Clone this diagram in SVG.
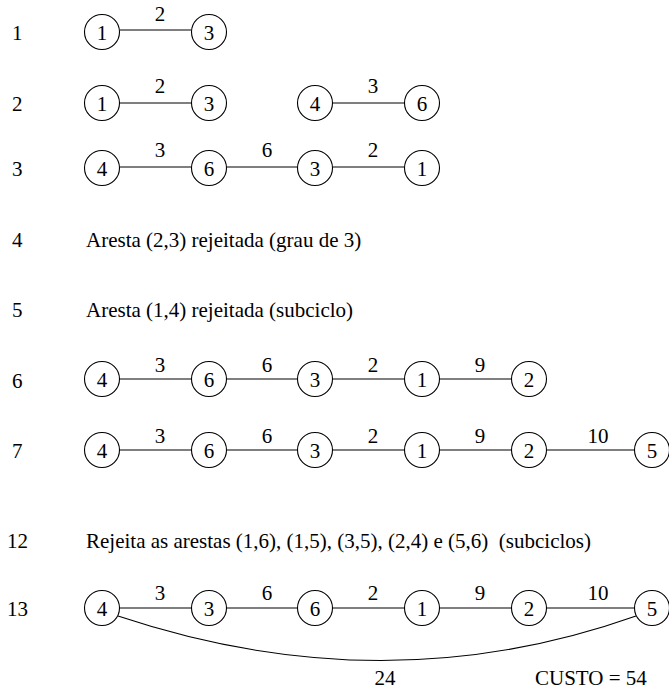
<svg xmlns="http://www.w3.org/2000/svg" width="669" height="691" viewBox="0 0 669 691" font-family="'Liberation Serif', 'Times New Roman', serif">
<style>
text{font-family:"Liberation Serif","Times New Roman",serif;font-size:21px;fill:#000}
.n{text-anchor:middle}
.e{text-anchor:middle}
circle{fill:#fff;stroke:#000;stroke-width:1.1}
.c line,.c path{stroke:#000;stroke-width:1.1;fill:none}
</style>
<defs>
<circle id="nd" r="17.5"/>
</defs>
<g id="rowlabels">
<text x="12" y="40">1</text>
<text x="12" y="111">2</text>
<text x="12" y="176">3</text>
<text x="12" y="247">4</text>
<text x="12" y="317">5</text>
<text x="12" y="388">6</text>
<text x="12" y="458">7</text>
<text x="7" y="548">12</text>
<text x="7" y="616">13</text>
</g>
<g id="connectors" class="c">
<line x1="119.5" y1="30" x2="191.5" y2="30"/>
<line x1="119.5" y1="103" x2="191.5" y2="103"/>
<line x1="332.5" y1="103" x2="404.5" y2="103"/>
<line x1="119.5" y1="167" x2="191.5" y2="167"/>
<line x1="226.5" y1="167" x2="297.5" y2="167"/>
<line x1="332.5" y1="167" x2="404.5" y2="167"/>
<line x1="119.5" y1="379" x2="191.5" y2="379"/>
<line x1="226.5" y1="379" x2="297.5" y2="379"/>
<line x1="332.5" y1="379" x2="404.5" y2="379"/>
<line x1="439.5" y1="379" x2="511.5" y2="379"/>
<line x1="119.5" y1="450" x2="191.5" y2="450"/>
<line x1="226.5" y1="450" x2="297.5" y2="450"/>
<line x1="332.5" y1="450" x2="404.5" y2="450"/>
<line x1="439.5" y1="450" x2="511.5" y2="450"/>
<line x1="546.5" y1="450" x2="634.5" y2="450"/>
<line x1="119.5" y1="608" x2="191.5" y2="608"/>
<line x1="226.5" y1="608" x2="297.5" y2="608"/>
<line x1="332.5" y1="608" x2="404.5" y2="608"/>
<line x1="439.5" y1="608" x2="511.5" y2="608"/>
<line x1="546.5" y1="608" x2="634.5" y2="608"/>
<path d="M118,616 Q385,705 636,616"/>
</g>
<g id="edgelabels">
<text class="e" x="160" y="21">2</text>
<text class="e" x="160" y="93">2</text>
<text class="e" x="373" y="93">3</text>
<text class="e" x="160" y="157">3</text>
<text class="e" x="267" y="157">6</text>
<text class="e" x="373" y="157">2</text>
<text class="e" x="160" y="372">3</text>
<text class="e" x="267" y="372">6</text>
<text class="e" x="373" y="372">2</text>
<text class="e" x="480" y="372">9</text>
<text class="e" x="160" y="443">3</text>
<text class="e" x="267" y="443">6</text>
<text class="e" x="373" y="443">2</text>
<text class="e" x="480" y="443">9</text>
<text class="e" x="598" y="443">10</text>
<text class="e" x="160" y="600">3</text>
<text class="e" x="267" y="600">6</text>
<text class="e" x="373" y="600">2</text>
<text class="e" x="480" y="600">9</text>
<text class="e" x="598" y="600">10</text>
<text class="e" x="385" y="685">24</text>
</g>
<g id="row1">
<g id="r1n1"><use href="#nd" x="102" y="32"/><text class="n" x="102" y="40">1</text></g>
<g id="r1n3"><use href="#nd" x="209" y="32"/><text class="n" x="209" y="40">3</text></g>
</g>
<g id="row2">
<g id="r2n1"><use href="#nd" x="102" y="103"/><text class="n" x="102" y="111">1</text></g>
<g id="r2n3"><use href="#nd" x="209" y="103"/><text class="n" x="209" y="111">3</text></g>
<g id="r2n4"><use href="#nd" x="315" y="103"/><text class="n" x="315" y="111">4</text></g>
<g id="r2n6"><use href="#nd" x="422" y="103"/><text class="n" x="422" y="111">6</text></g>
</g>
<g id="row3">
<g id="r3n4"><use href="#nd" x="102" y="168"/><text class="n" x="102" y="176">4</text></g>
<g id="r3n6"><use href="#nd" x="209" y="168"/><text class="n" x="209" y="176">6</text></g>
<g id="r3n3"><use href="#nd" x="315" y="168"/><text class="n" x="315" y="176">3</text></g>
<g id="r3n1"><use href="#nd" x="422" y="168"/><text class="n" x="422" y="176">1</text></g>
</g>
<g id="row4"><text x="86" y="247">Aresta (2,3) rejeitada (grau de 3)</text></g>
<g id="row5"><text x="86" y="317">Aresta (1,4) rejeitada (subciclo)</text></g>
<g id="row6">
<g id="r6n4"><use href="#nd" x="102" y="379"/><text class="n" x="102" y="387">4</text></g>
<g id="r6n6"><use href="#nd" x="209" y="379"/><text class="n" x="209" y="387">6</text></g>
<g id="r6n3"><use href="#nd" x="315" y="379"/><text class="n" x="315" y="387">3</text></g>
<g id="r6n1"><use href="#nd" x="422" y="379"/><text class="n" x="422" y="387">1</text></g>
<g id="r6n2"><use href="#nd" x="529" y="379"/><text class="n" x="529" y="387">2</text></g>
</g>
<g id="row7">
<g id="r7n4"><use href="#nd" x="102" y="450"/><text class="n" x="102" y="458">4</text></g>
<g id="r7n6"><use href="#nd" x="209" y="450"/><text class="n" x="209" y="458">6</text></g>
<g id="r7n3"><use href="#nd" x="315" y="450"/><text class="n" x="315" y="458">3</text></g>
<g id="r7n1"><use href="#nd" x="422" y="450"/><text class="n" x="422" y="458">1</text></g>
<g id="r7n2"><use href="#nd" x="529" y="450"/><text class="n" x="529" y="458">2</text></g>
<g id="r7n5"><use href="#nd" x="652" y="450"/><text class="n" x="652" y="458">5</text></g>
</g>
<g id="row12"><text x="86" y="548" xml:space="preserve">Rejeita as arestas (1,6), (1,5), (3,5), (2,4) e (5,6)  (subciclos)</text></g>
<g id="row13">
<g id="r13n4"><use href="#nd" x="102" y="608"/><text class="n" x="102" y="616">4</text></g>
<g id="r13n3"><use href="#nd" x="209" y="608"/><text class="n" x="209" y="616">3</text></g>
<g id="r13n6"><use href="#nd" x="315" y="608"/><text class="n" x="315" y="616">6</text></g>
<g id="r13n1"><use href="#nd" x="422" y="608"/><text class="n" x="422" y="616">1</text></g>
<g id="r13n2"><use href="#nd" x="529" y="608"/><text class="n" x="529" y="616">2</text></g>
<g id="r13n5"><use href="#nd" x="652" y="608"/><text class="n" x="652" y="616">5</text></g>
</g>
<g id="cost"><text x="535" y="685">CUSTO = 54</text></g>
</svg>
